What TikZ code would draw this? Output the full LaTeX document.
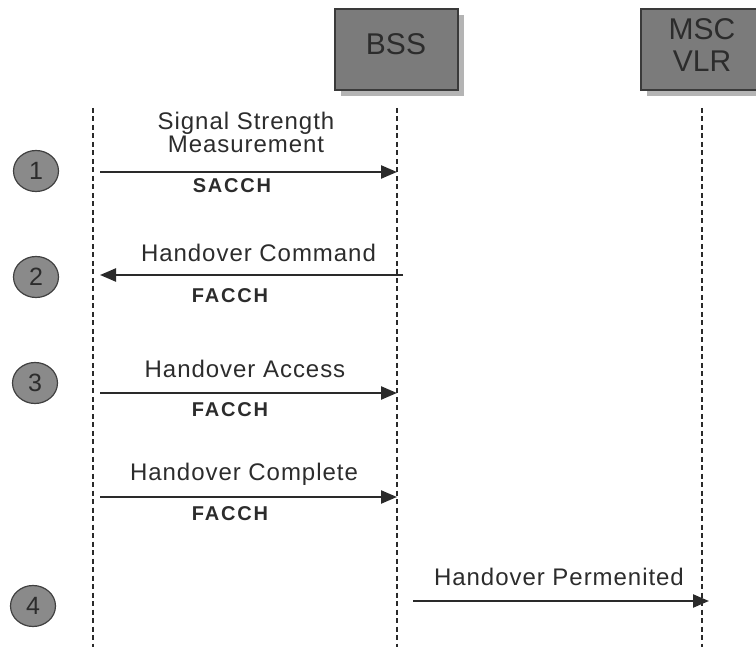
\documentclass[tikz,border=0pt]{standalone}
\usepackage{fontspec}
\setmainfont{Liberation Sans}
\newfontfamily\lblfont[LetterSpace=4]{Liberation Sans}
\newfontfamily\chfont[LetterSpace=9]{Liberation Sans}
\usetikzlibrary{arrows.meta,shapes.geometric}
\definecolor{boxfill}{HTML}{7B7B7B}
\definecolor{boxline}{HTML}{3A3A3A}
\definecolor{shadowc}{HTML}{B4B4B4}
\definecolor{circfill}{HTML}{8A8A8A}
\definecolor{arrowc}{HTML}{2A2A2A}
\definecolor{textc}{HTML}{2C2C2C}
\tikzset{
  entity/.style={draw=boxline, line width=1.3pt, fill=boxfill, minimum width=123pt, minimum height=81pt, inner sep=0pt},
  entshadow/.style={fill=shadowc},
  enttext/.style={font=\fontsize{30}{30}\selectfont, text=textc, inner sep=0pt, anchor=base},
  stepcirc/.style={ellipse, draw=black!75, line width=1.2pt, fill=circfill, minimum width=45pt, minimum height=41pt, inner sep=0pt, font=\fontsize{25}{25}\selectfont, text=textc},
  lifeline/.style={draw=arrowc, line width=1.5pt, dash pattern=on 5pt off 3.5pt},
  msg/.style={draw=arrowc, line width=2.3pt, -{Triangle[length=16pt,width=13pt]}},
  msglbl/.style={font=\lblfont\fontsize{24}{24}\selectfont, text=textc, inner sep=0pt, anchor=base},
  chlbl/.style={font=\chfont\bfseries\fontsize{20}{20}\selectfont, text=textc, inner sep=0pt, anchor=base}
}
\begin{document}
\begin{tikzpicture}[x=1pt,y=-1pt]
\useasboundingbox (0,0) rectangle (756,647);
% entity boxes with shadows
\fill[entshadow] (341,15) rectangle (464,96);
\node[entity] (bss) at (396.5,49.5) {};
\node[enttext] (bsstext) at (396,55) {BSS};
\fill[entshadow] (647,15) rectangle (770,96);
\node[entity] (msc) at (702.5,49.5) {};
\node[enttext] (msctext) at (702,40) {MSC};
\node[enttext] (vlrtext) at (702,72) {VLR};
% lifelines
\coordinate (msTop) at (93,108);
\coordinate (msBot) at (93,647);
\coordinate (bssTop) at (397,108);
\coordinate (bssBot) at (397,647);
\coordinate (mscTop) at (702,108);
\coordinate (mscBot) at (702,647);
\draw[lifeline] (msTop) -- (msBot);
\draw[lifeline] (bssTop) -- (bssBot);
\draw[lifeline] (mscTop) -- (mscBot);
% step circles
\node[stepcirc] (s1) at (36,171) {1};
\node[stepcirc] (s2) at (36,277) {2};
\node[stepcirc] (s3) at (35,383) {3};
\node[stepcirc] (s4) at (33,606) {4};
% message end points
\coordinate (a1s) at (100,172);  \coordinate (a1e) at (397,172);
\coordinate (a2s) at (403,275);  \coordinate (a2e) at (100,275);
\coordinate (a3s) at (100,393);  \coordinate (a3e) at (397,393);
\coordinate (a4s) at (100,497);  \coordinate (a4e) at (397,497);
\coordinate (a5s) at (413,601);  \coordinate (a5e) at (709,601);
\draw[msg] (a1s) -- (a1e);
\draw[msg] (a2s) -- (a2e);
\draw[msg] (a3s) -- (a3e);
\draw[msg] (a4s) -- (a4e);
\draw[msg] (a5s) -- (a5e);
% labels
\node[msglbl] (l1a) at (246,130) {Signal Strength};
\node[msglbl] (l1b) at (246,153) {Measurement};
\node[chlbl] (c1) at (232,193) {SACCH};
\node[msglbl] (l2) at (258.5,262) {Handover Command};
\node[chlbl] (c2) at (230,303) {FACCH};
\node[msglbl] (l3) at (245,378) {Handover Access};
\node[chlbl] (c3) at (230,417) {FACCH};
\node[msglbl] (l4) at (244,480) {Handover Complete};
\node[chlbl] (c4) at (230,520) {FACCH};
\node[msglbl] (l5) at (559,585) {Handover Permenited};
\end{tikzpicture}
\end{document}
